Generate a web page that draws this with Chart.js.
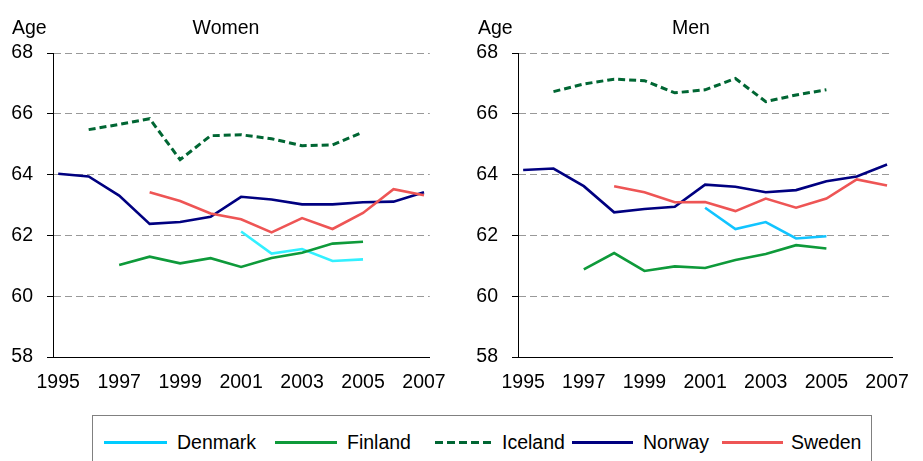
<!DOCTYPE html>
<html>
<head>
<meta charset="utf-8">
<script src="https://cdn.jsdelivr.net/npm/chart.js@4/dist/chart.umd.min.js"></script>
<style>
  body { margin: 0; width: 923px; height: 461px; overflow: hidden; background: #fff; position: relative;
         font-family: "Liberation Sans", Arial, sans-serif; }
  #women { position: absolute; left: 0; top: 0; }
  #men { position: absolute; left: 460px; top: 0; }
  #legendBox { position: absolute; left: 92px; top: 415px; width: 778px; height: 70px; border: 1px solid #808080; }
  .swatch { position: absolute; top: 441px; height: 2.5px; }
  .lbl { position: absolute; top: 431px; font-size: 19.5px; line-height: 22px; color: #000; white-space: nowrap; }
</style>
</head>
<body>
<canvas id="women" width="460" height="410"></canvas>
<canvas id="men" width="463" height="410"></canvas>
<div id="legendBox"></div>
<div class="swatch" style="left:104px;width:63px;background:#00ccff"></div>
<div class="lbl" style="left:177px">Denmark</div>
<div class="swatch" style="left:275px;width:62px;background:#0e9a3a"></div>
<div class="lbl" style="left:347px">Finland</div>
<div class="swatch" style="left:435px;width:57px;height:3px;background:repeating-linear-gradient(to right,#006633 0 8px,transparent 8px 12px)"></div>
<div class="lbl" style="left:502px">Iceland</div>
<div class="swatch" style="left:572px;width:61px;background:#000080"></div>
<div class="lbl" style="left:643px">Norway</div>
<div class="swatch" style="left:722px;width:61px;background:#ee5555"></div>
<div class="lbl" style="left:791px">Sweden</div>
<script>
// years on the x axis
const years = [1995, 1996, 1997, 1998, 1999, 2000, 2001, 2002, 2003, 2004, 2005, 2006, 2007];
const xTicks = [1995, 1997, 1999, 2001, 2003, 2005, 2007];
const yTicks = [58, 60, 62, 64, 66, 68];

// Women
const denmarkW = [null, null, null, null, null, null, 62.13, 61.40, 61.55, 61.16, 61.21, null, null];
const finlandW = [null, null, 61.03, 61.30, 61.08, 61.25, 60.96, 61.26, 61.43, 61.73, 61.79, null, null];
const icelandW = [null, 65.48, 65.65, 65.84, 64.49, 65.28, 65.31, 65.18, 64.95, 64.98, 65.40, null, null];
const norwayW = [64.03, 63.94, 63.31, 62.38, 62.44, 62.61, 63.27, 63.18, 63.02, 63.02, 63.09, 63.11, 63.42];
const swedenW = [null, null, null, 63.42, 63.13, 62.72, 62.53, 62.10, 62.57, 62.21, 62.74, 63.52, 63.32];

// Men
const denmarkM = [null, null, null, null, null, null, 62.91, 62.21, 62.44, 61.90, 61.97, null, null];
const finlandM = [null, null, 60.88, 61.42, 60.83, 60.98, 60.93, 61.19, 61.39, 61.68, 61.57, null, null];
const icelandM = [null, 66.73, 66.98, 67.14, 67.09, 66.69, 66.79, 67.16, 66.40, 66.62, 66.79, null, null];
const norwayM = [64.15, 64.20, 63.62, 62.76, 62.87, 62.94, 63.67, 63.60, 63.42, 63.49, 63.78, 63.94, 64.33];
const swedenM = [null, null, null, 63.62, 63.42, 63.09, 63.10, 62.80, 63.21, 62.91, 63.21, 63.84, 63.64];

const FONT = '"Liberation Sans", Arial, sans-serif';
Chart.defaults.font.family = FONT;
Chart.defaults.font.size = 19.5;
Chart.defaults.color = '#000';

function pts(vals) {
  return years.map((yr, i) => ({x: yr, y: vals[i]}));
}

function line(label, vals, color, dash) {
  return {
    label: label,
    data: pts(vals),
    borderColor: color,
    backgroundColor: color,
    borderWidth: dash ? 3 : 2.6,
    borderDash: dash || [],
    pointRadius: 0,
    tension: 0,
    fill: false
  };
}

const cornerText = {
  id: 'cornerText',
  afterDraw(chart, args, opts) {
    const c = chart.ctx;
    c.save();
    c.font = '19.5px ' + FONT;
    c.fillStyle = '#000';
    c.textBaseline = 'alphabetic';
    c.textAlign = 'left';
    c.fillText('Age', opts.ageX, 34);
    c.textAlign = 'center';
    c.fillText(opts.title, opts.titleX, 34);
    c.restore();
  }
};

function makeChart(id, title, sets, yWidth, padRight, ageX, titleX) {
  const canvasH = 410;
  return new Chart(document.getElementById(id), {
    type: 'line',
    data: {datasets: sets},
    plugins: [cornerText],
    options: {
      responsive: false,
      animation: false,
      layout: {padding: {top: 53, left: 0, right: padRight, bottom: canvasH - 357 - 40}},
      plugins: {
        legend: {display: false},
        tooltip: {enabled: false},
        cornerText: {ageX: ageX, title: title, titleX: titleX}
      },
      scales: {
        x: {
          type: 'linear',
          min: 1994.83,
          max: 2007.19,
          afterBuildTicks: scale => { scale.ticks = xTicks.map(v => ({value: v})); },
          afterFit: scale => { scale.height = 40; },
          ticks: {padding: 14, maxRotation: 0, autoSkip: false, callback: v => String(v)},
          grid: {display: false, drawTicks: false},
          border: {display: true, color: '#000', width: 1}
        },
        y: {
          min: 58,
          max: 68,
          afterBuildTicks: scale => { scale.ticks = yTicks.map(v => ({value: v})); },
          afterFit: scale => { scale.width = yWidth; },
          ticks: {padding: 14},
          grid: {color: '#999999', tickColor: '#000', tickLength: 6, tickBorderDash: [], lineWidth: 1},
          border: {display: true, color: '#000', width: 1, dash: [7, 4]}
        }
      }
    }
  });
}

makeChart('women', 'Women', [
  line('Sweden', swedenW, '#ee5555'),
  line('Norway', norwayW, '#000080'),
  line('Iceland', icelandW, '#006633', [7, 4]),
  line('Finland', finlandW, '#0e9a3a'),
  line('Denmark', denmarkW, '#33f0ff')
], 53, 20, 12, 226);

makeChart('men', 'Men', [
  line('Sweden', swedenM, '#ee5555'),
  line('Norway', norwayM, '#000080'),
  line('Iceland', icelandM, '#006633', [7, 4]),
  line('Finland', finlandM, '#0e9a3a'),
  line('Denmark', denmarkM, '#11c4ff')
], 58, 17, 18, 231);
</script>
</body>
</html>
